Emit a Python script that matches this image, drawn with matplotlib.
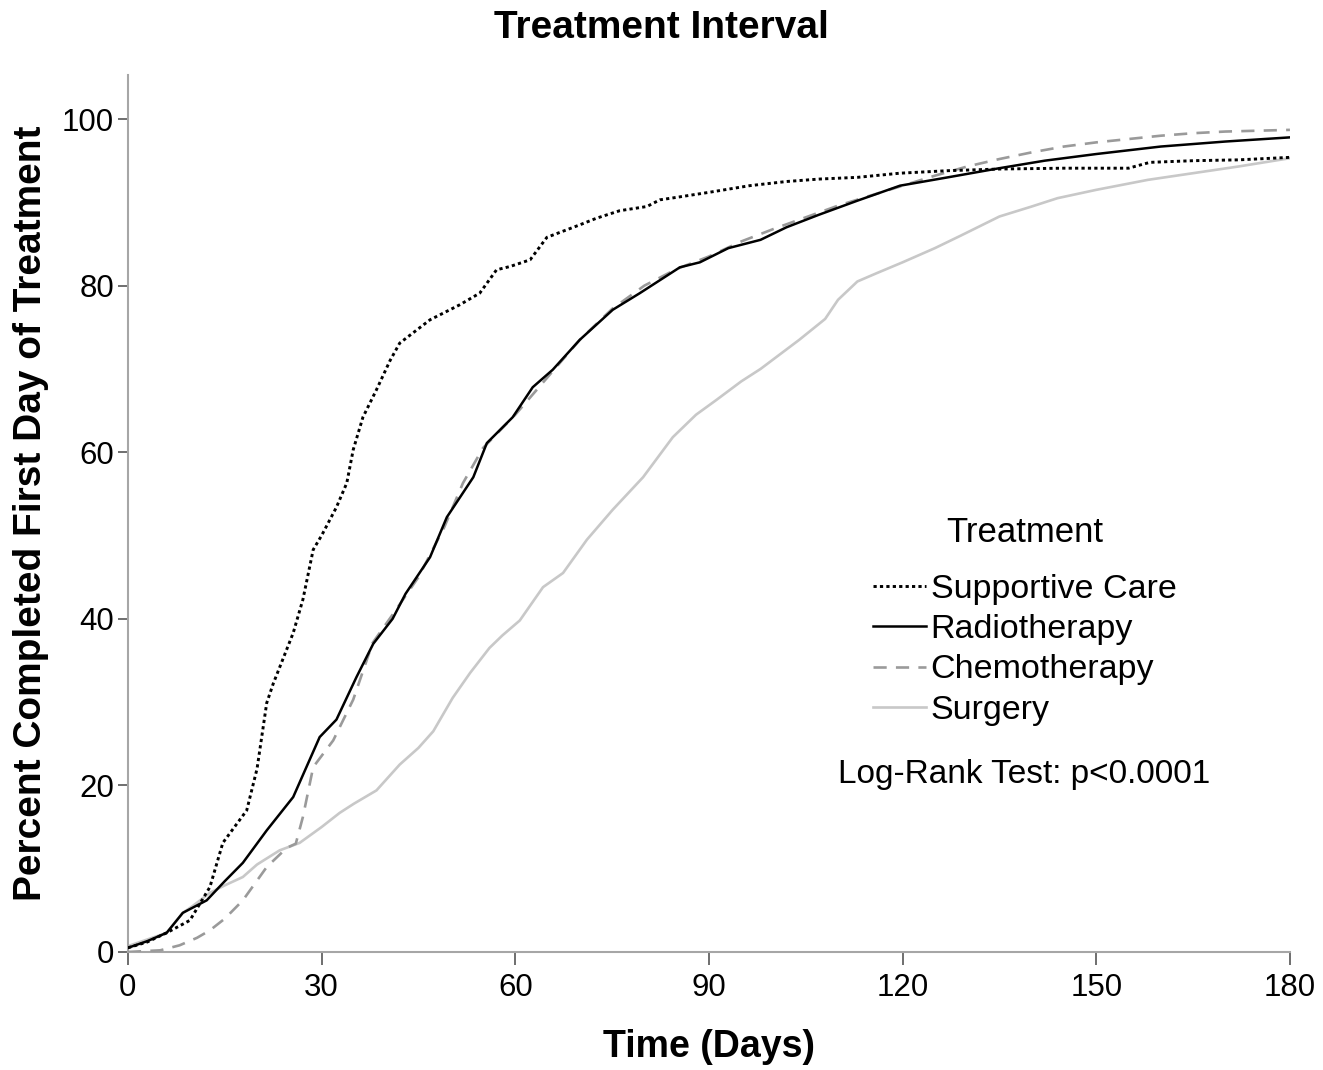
import matplotlib
matplotlib.use('Agg')
import matplotlib.pyplot as plt

plt.rcParams['font.family'] = ['Liberation Sans', 'DejaVu Sans']

# values (days, percent completed)
supportive_days = [0, 3, 6, 9.6, 12.7, 14.7, 16.5, 18.4, 20, 21.5, 22.5, 25.6, 27.1, 28.7, 30,
                   32.3, 33.9, 34.9, 36.4, 38.5, 40.6, 42.1, 46.8, 51.4, 54.5, 57.1, 59.2, 62.3,
                   64.9, 70, 72.6, 76.2, 80.4, 82.4, 85, 90, 96.3, 102, 107.2, 113, 119.6, 127,
                   135, 145, 155, 158.3, 165, 172, 180]
supportive_pct = [0.5, 1.2, 2.3, 3.8, 7.8, 13.1, 15, 17, 22, 29.9, 32.2, 38.3, 42.3, 48.3, 50,
                  53.4, 56.3, 60.3, 64.2, 67.5, 71, 73.1, 75.9, 77.7, 79.1, 81.9, 82.3, 83.1,
                  85.8, 87.3, 88.1, 89, 89.5, 90.3, 90.6, 91.2, 92, 92.5, 92.8, 93, 93.5, 93.8,
                  94, 94.1, 94.1, 94.8, 95, 95.1, 95.4]

radio_days = [0, 3, 6, 8.5, 12.2, 15, 17.8, 21.5, 25.6, 29.7, 32.3, 35.4, 38, 41, 43, 46.8,
              49.4, 53.5, 55.6, 59.6, 62.7, 65.8, 70, 75.1, 79.3, 85.5, 88.6, 93, 98, 102, 107,
              113, 119.6, 127, 135, 142, 150, 160, 170, 180]
radio_pct = [0.5, 1.3, 2.3, 4.7, 6.2, 8.5, 10.7, 14.6, 18.6, 25.8, 27.9, 33, 37, 40, 43, 47.4,
             52.2, 57, 61.1, 64.2, 67.8, 69.9, 73.5, 77.1, 79.1, 82.2, 82.8, 84.5, 85.5, 87,
             88.5, 90.2, 92, 93, 94.1, 95, 95.8, 96.7, 97.3, 97.8]

chemo_days = [0, 5, 8, 10.7, 12.7, 15, 17.8, 21.5, 24.6, 26, 27.1, 28.7, 31.8, 34.9, 37.9, 41,
              45, 49, 51.9, 55, 60, 65, 70, 75, 80, 85, 90, 95, 100, 105, 110, 115, 120, 125,
              130, 135, 140, 145, 150, 155, 160, 165, 170, 175, 180]
chemo_pct = [0, 0.2, 0.8, 1.7, 2.6, 4, 6.2, 10.2, 12.5, 13, 16.2, 22.2, 25.4, 30.3, 37.1, 40.5,
             45, 51, 56.3, 60.5, 64.5, 69, 73.5, 77.2, 80, 82, 83.5, 85.3, 86.8, 88.2, 89.6,
             90.8, 92, 93.2, 94.3, 95.2, 96, 96.7, 97.2, 97.6, 98, 98.3, 98.5, 98.6, 98.7]

surgery_days = [0, 3, 6, 8.5, 10, 12.7, 15, 17.8, 20, 23.5, 26.6, 30, 32.8, 35, 38.5, 42.1, 45,
                47.3, 50.3, 53, 56, 58, 60.7, 64.3, 67.4, 71.1, 75.1, 79.8, 84.4, 88, 91.2, 95,
                98, 104, 108, 110, 113, 116, 120, 125, 129, 135, 140, 144, 150, 158, 165, 172, 180]
surgery_pct = [0.7, 1.5, 2.3, 4.7, 5.5, 7.1, 8, 9, 10.5, 12.2, 13.1, 15, 16.7, 17.8, 19.4, 22.5,
               24.5, 26.5, 30.5, 33.5, 36.5, 38, 39.8, 43.8, 45.5, 49.5, 53.1, 57, 61.8, 64.5,
               66.3, 68.5, 70, 73.5, 76, 78.3, 80.5, 81.5, 82.8, 84.5, 86, 88.3, 89.5, 90.5,
               91.5, 92.7, 93.5, 94.3, 95.3]

fig = plt.figure(figsize=(13.23, 10.70), dpi=100)
ax = fig.add_axes([0.0967, 0.1103, 0.8783, 0.8197])

ax.plot(surgery_days, surgery_pct, color='#c8c8c8', lw=1.9, label='Surgery', zorder=2)
ax.plot(chemo_days, chemo_pct, color='#9a9a9a', lw=1.9, linestyle=(0, (5, 3.5)),
        label='Chemotherapy', zorder=3)
ax.plot(radio_days, radio_pct, color='black', lw=1.8, label='Radiotherapy', zorder=4)
ax.plot(supportive_days, supportive_pct, color='black', lw=2.1, linestyle=(0, (1.1, 1.1)),
        label='Supportive Care', zorder=5)

ax.set_xlim(0, 180)
ax.set_ylim(0, 105.3)
ax.set_xticks([0, 30, 60, 90, 120, 150, 180])
ax.set_yticks([0, 20, 40, 60, 80, 100])

for s in ['top', 'right']:
    ax.spines[s].set_visible(False)
for s in ['left', 'bottom']:
    ax.spines[s].set_color('#a6a6a6')
    ax.spines[s].set_linewidth(1.5)
ax.tick_params(axis='both', direction='out', length=7, width=1.2, color='#555555',
               labelsize=22.5, pad=3)
ax.tick_params(axis='x', length=9, pad=6)

fig.text(0.5, 1 - 28 / 1070, 'Treatment Interval', fontsize=28, fontweight='bold',
         ha='center', va='center')
ax.set_xlabel('Time (Days)', fontsize=27, fontweight='bold')
ax.xaxis.set_label_coords(0.5, -0.088)
ax.set_ylabel('Percent Completed First Day of Treatment', fontsize=28, fontweight='bold')
ax.yaxis.set_label_coords(-0.068, 0.5)

handles, labels = ax.get_legend_handles_labels()
order = [3, 2, 1, 0]
leg = ax.legend([handles[i] for i in order], [labels[i] for i in order],
                title='Treatment', frameon=False, fontsize=24.5, title_fontsize=25,
                loc='upper left', bbox_to_anchor=(0.641, 0.497), handlelength=1.55,
                handletextpad=0.15, labelspacing=0.27, borderpad=0, borderaxespad=0)
leg._legend_box.sep = 18

ax.text(0.611, 0.2018, 'Log-Rank Test: p<0.0001', transform=ax.transAxes, fontsize=24,
        ha='left', va='center')

fig.savefig('out.png', dpi=100)
